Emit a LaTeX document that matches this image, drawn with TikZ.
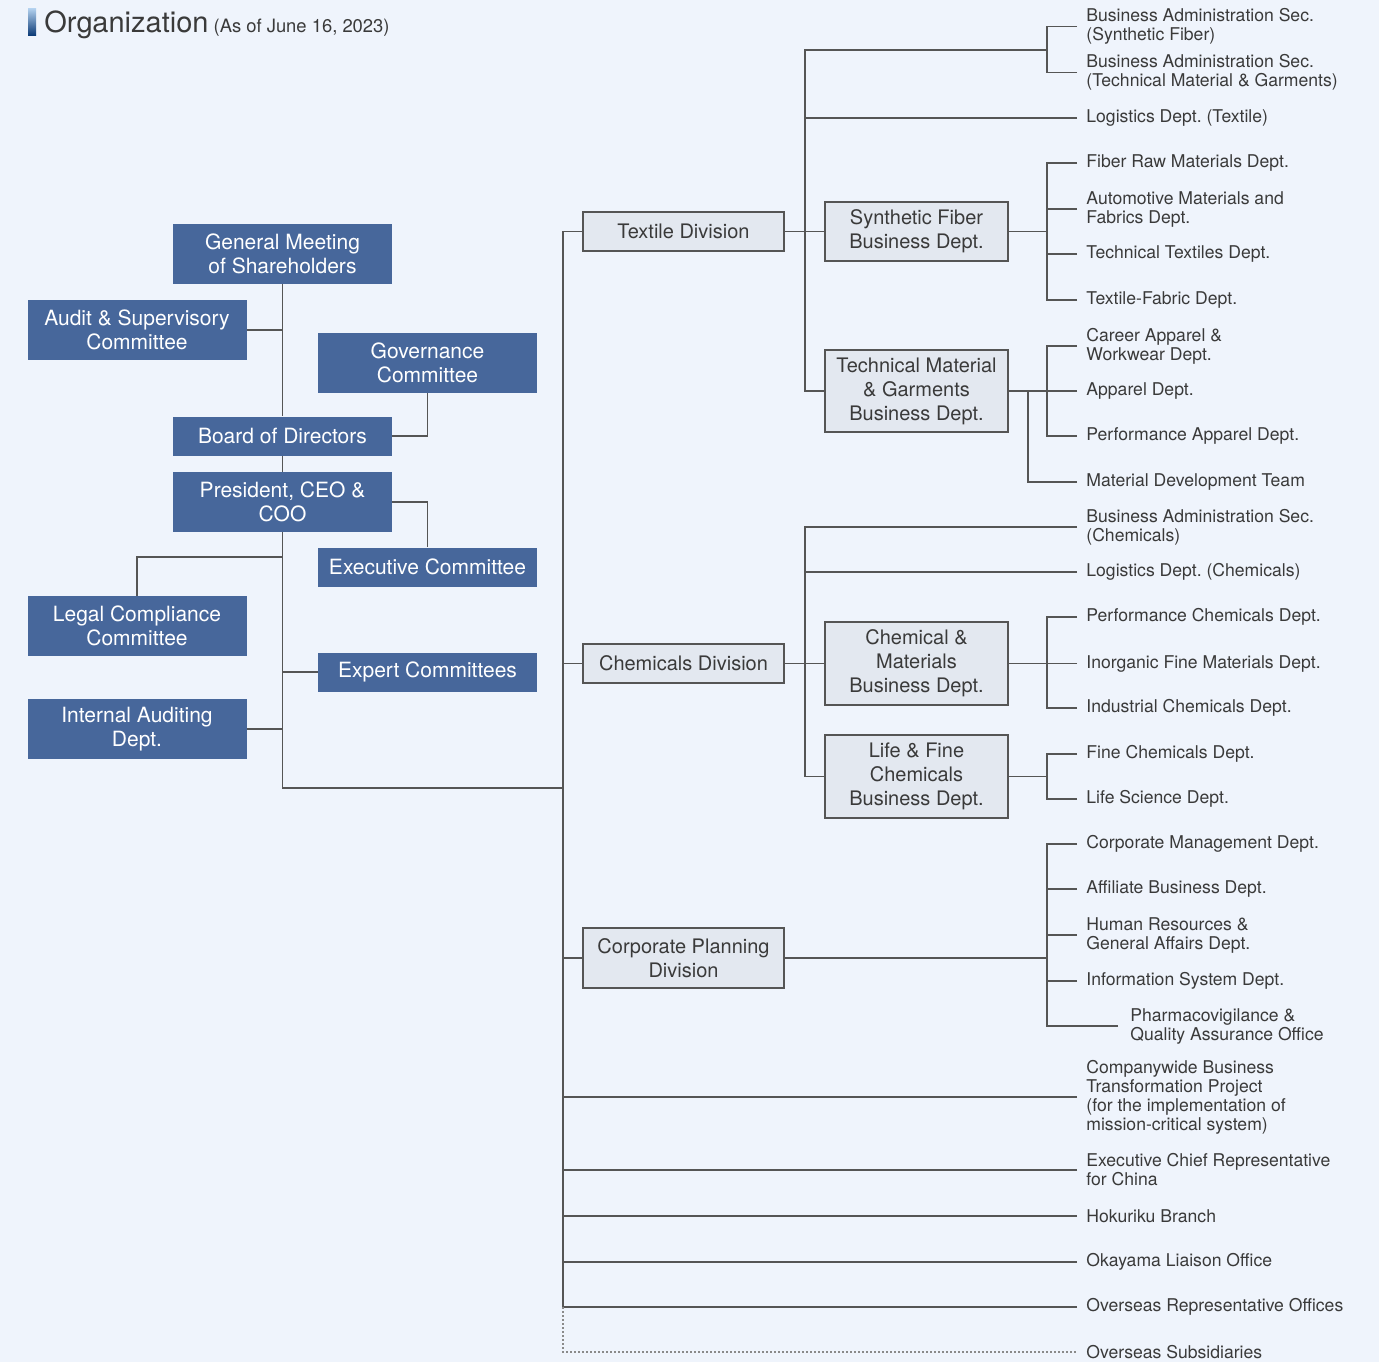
\documentclass[tikz,border=0pt]{standalone}
\usepackage{fontspec}
\setmainfont{TeX Gyre Heros}
\usepackage{xcolor}
\usepackage{tikz}
\usetikzlibrary{calc}
\definecolor{BG}{HTML}{EFF4FC}
\definecolor{C0}{HTML}{47679B}
\definecolor{C1}{HTML}{E3E8F0}
\definecolor{C2}{HTML}{555555}
\definecolor{C3}{HTML}{3A3A3A}
\definecolor{C4}{HTML}{B5D3F0}
\definecolor{C5}{HTML}{0E3C78}
\definecolor{C6}{HTML}{8A8A8A}
\frenchspacing

\begin{document}
\begin{tikzpicture}[x=0.5pt,y=-0.5pt]
\tikzstyle{blu}=[fill=C0, text=white, inner sep=0pt, align=center, font=\fontsize{10.5}{12}\selectfont]
\tikzstyle{blu2}=[blu, minimum width=109.5pt, minimum height=30pt]
\tikzstyle{blu1}=[blu, minimum width=109.5pt, minimum height=19.5pt]
\tikzstyle{gry}=[draw=C2, line width=0.6pt, fill=C1, text=C3, inner sep=0pt, align=center, font=\fontsize{10}{12}\selectfont]
\tikzstyle{gryd}=[gry, minimum width=100.5pt]
\tikzstyle{gryb}=[gry, minimum width=91.5pt]
\tikzstyle{lbl}=[anchor=west, inner xsep=4.5pt, inner ysep=0pt, align=left, text=C3, font=\fontsize{8.8}{9.5}\selectfont]
\tikzstyle{ln}=[draw=C2, line width=0.6pt]
%
\fill[BG] (0,0) rectangle (1379,1362);
\useasboundingbox (0,0) rectangle (1379,1362);
%
\shade[top color=C4, bottom color=C5] (28,8) rectangle (36,35);
\node[anchor=base west, inner sep=0pt, text=C3](title) at (44,32){\fontsize{14.5}{17}\selectfont Organization{\fontsize{9.2}{11}\selectfont~(As of June 16, 2023)}};
%
\node[blu2](gms) at (282.5,254){General Meeting\\of Shareholders};
\node[blu2](audit) at (137,330){Audit \& Supervisory\\Committee};
\node[blu2](gov) at (427.5,363){Governance\\Committee};
\node[blu1](board) at (282.5,436){Board of Directors};
\node[blu2](pres) at (282.5,502){President, CEO \&\\COO};
\node[blu1](exec) at (427.5,567){Executive Committee};
\node[blu2](legal) at (137,626){Legal Compliance\\Committee};
\node[blu1](expert) at (427.5,672){Expert Committees};
\node[blu2](intaud) at (137,729){Internal Auditing\\Dept.};
%
\node[gryd, minimum height=19.5pt](textile) at (683.5,231.5){Textile Division};
\node[gryd, minimum height=19.5pt](chem) at (683.5,663.5){Chemicals Division};
\node[gryd, minimum height=30pt](corp) at (683.5,958){Corporate Planning\\Division};
\node[gryb, minimum height=29.5pt](synth) at (916.5,231.5){Synthetic Fiber\\Business Dept.};
\node[gryb, minimum height=41pt](techgm) at (916.5,391){Technical Material\\\& Garments\\Business Dept.};
\node[gryb, minimum height=41.5pt](chemmat) at (916.5,663.5){Chemical \&\\Materials\\Business Dept.};
\node[gryb, minimum height=41.5pt](lifefc) at (916.5,776.5){Life \& Fine\\Chemicals\\Business Dept.};
%
\node[lbl](basf) at (1077,26.5){Business Administration Sec.\\(Synthetic Fiber)};
\node[lbl](batm) at (1077,72.5){Business Administration Sec.\\(Technical Material \& Garments)};
\node[lbl](logtx) at (1077,118){Logistics Dept. (Textile)};
\node[lbl](fibraw) at (1077,163){Fiber Raw Materials Dept.};
\node[lbl](automat) at (1077,209){Automotive Materials and\\Fabrics Dept.};
\node[lbl](techtx) at (1077,254){Technical Textiles Dept.};
\node[lbl](texfab) at (1077,300){Textile-Fabric Dept.};
\node[lbl](career) at (1077,346){Career Apparel \&\\Workwear Dept.};
\node[lbl](apparel) at (1077,391){Apparel Dept.};
\node[lbl](perfapp) at (1077,436){Performance Apparel Dept.};
\node[lbl](matdev) at (1077,482){Material Development Team};
\node[lbl](bachem) at (1077,527){Business Administration Sec.\\(Chemicals)};
\node[lbl](logch) at (1077,572){Logistics Dept. (Chemicals)};
\node[lbl](perfch) at (1077,617){Performance Chemicals Dept.};
\node[lbl](inorg) at (1077,663.5){Inorganic Fine Materials Dept.};
\node[lbl](indch) at (1077,708){Industrial Chemicals Dept.};
\node[lbl](finech) at (1077,754){Fine Chemicals Dept.};
\node[lbl](lifesc) at (1077,799){Life Science Dept.};
\node[lbl](corpmg) at (1077,844){Corporate Management Dept.};
\node[lbl](affil) at (1077,889){Affiliate Business Dept.};
\node[lbl](hrga) at (1077,935){Human Resources \&\\General Affairs Dept.};
\node[lbl](infosys) at (1077,981){Information System Dept.};
\node[lbl, inner xsep=6pt](pvqa) at (1118,1026){Pharmacovigilance \&\\Quality Assurance Office};
\node[lbl](cbtp) at (1077,1097){Companywide Business\\Transformation Project\\(for the implementation of\\mission-critical system)};
\node[lbl](ecrc) at (1077,1170){Executive Chief Representative\\for China};
\node[lbl](hoku) at (1077,1216){Hokuriku Branch};
\node[lbl](okay) at (1077,1262){Okayama Liaison Office};
\node[lbl](ovrep) at (1077,1307){Overseas Representative Offices};
\node[lbl](ovsub) at (1077,1352){Overseas Subsidiaries};
%
\coordinate (txj) at (805,231.5);
\coordinate (baj) at (1047,50);
\coordinate (sfj) at (1047,231.5);
\coordinate (tgj) at (1047,391);
\coordinate (mdj) at (1028,391);
\coordinate (chj) at (805,663.5);
\coordinate (cmj) at (1047,663.5);
\coordinate (lfj) at (1047,776.5);
\coordinate (cpj) at (1047,958);
\coordinate (spj) at (563,788);
\coordinate (lgj) at (282.5,557);
%
\draw[ln] (gms.south) -- (board.north);
\draw[ln] (audit.east) -- (audit.east -| gms.south);
\draw[ln] (gov.south) |- (board.east);
\draw[ln] (board.south) -- (pres.north);
\draw[ln] (pres.east) -| (exec.north);
\draw[ln] (legal.north) |- (lgj);
\draw[ln] (expert.west) -- (expert.west -| pres.south);
\draw[ln] (intaud.east) -- (intaud.east -| pres.south);
\draw[ln] (pres.south) |- (spj);
%
\foreach \n in {textile,chem,corp,cbtp,ecrc,hoku,okay,ovrep} \draw[ln] (\n.west) -| (spj);
\draw[ln, draw=C6, dash pattern=on 1pt off 1pt] (spj |- ovrep.west) |- (ovsub.west);
%
\draw[ln] (textile.east) -- (txj);
\foreach \n in {logtx.west,synth.west,techgm.west,baj} \draw[ln] (\n) -| (txj);
\foreach \n in {basf,batm} \draw[ln] (\n.west) -| (baj);
\draw[ln] (synth.east) -- (sfj);
\foreach \n in {fibraw,automat,techtx,texfab} \draw[ln] (\n.west) -| (sfj);
\draw[ln] (techgm.east) -- (tgj);
\foreach \n in {career,apparel,perfapp} \draw[ln] (\n.west) -| (tgj);
\draw[ln] (matdev.west) -| (mdj);
%
\draw[ln] (chem.east) -- (chj);
\foreach \n in {bachem,logch,chemmat,lifefc} \draw[ln] (\n.west) -| (chj);
\draw[ln] (chemmat.east) -- (cmj);
\foreach \n in {perfch,inorg,indch} \draw[ln] (\n.west) -| (cmj);
\draw[ln] (lifefc.east) -- (lfj);
\foreach \n in {finech,lifesc} \draw[ln] (\n.west) -| (lfj);
%
\draw[ln] (corp.east) -- (cpj);
\foreach \n in {corpmg,affil,hrga,infosys,pvqa} \draw[ln] (\n.west) -| (cpj);
%
\end{tikzpicture}
\end{document}
